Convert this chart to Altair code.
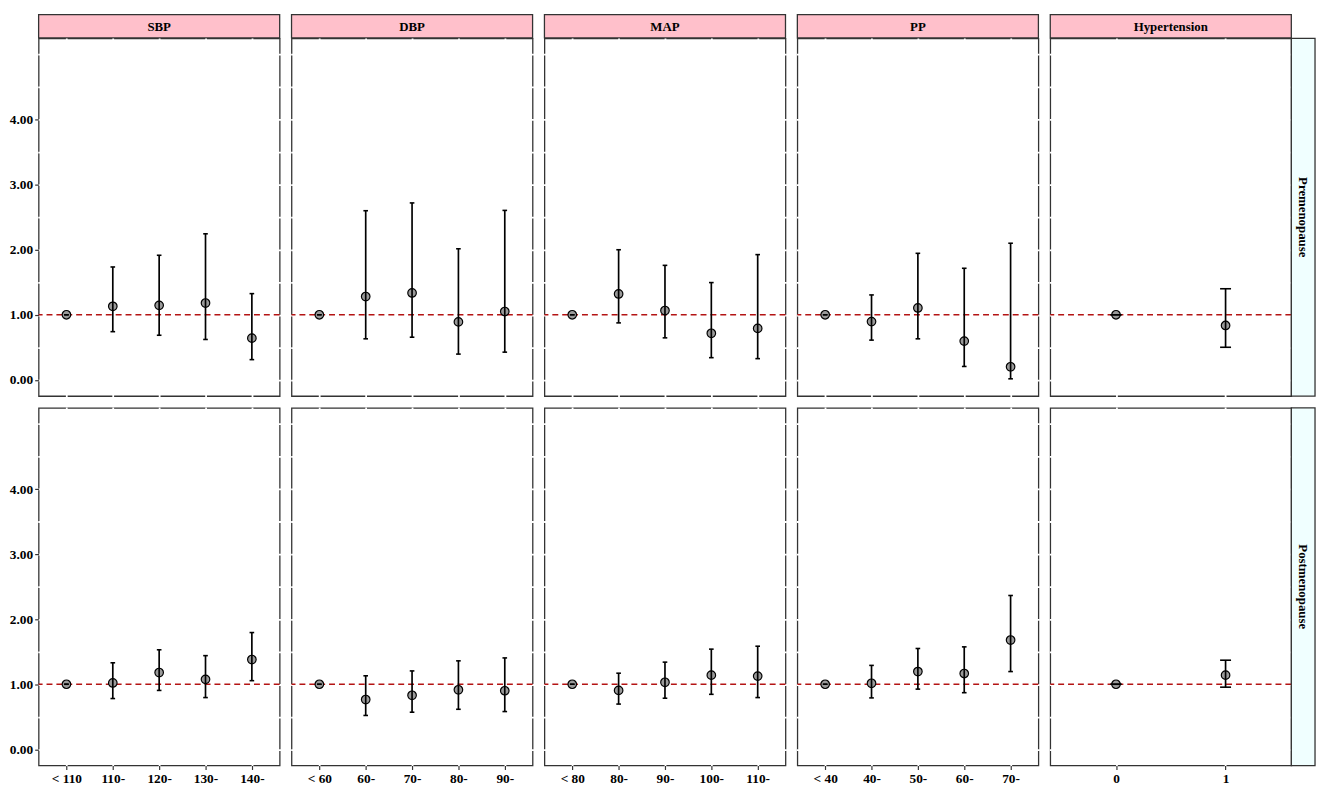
import altair as alt
import pandas as pd

groups = ["SBP", "DBP", "MAP", "PP", "Hypertension"]
periods = ["Premenopause", "Postmenopause"]

sbp_levels = ["< 110", "110-", "120-", "130-", "140-"]
dbp_levels = ["< 60", "60-", "70-", "80-", "90-"]
map_levels = ["< 80", "80-", "90-", "100-", "110-"]
pp_levels = ["< 40", "40-", "50-", "60-", "70-"]
htn_levels = ["0", "1"]

# Premenopause: odds ratio, lower CI, upper CI
sbp_pre_or = [1.00, 1.13, 1.145, 1.18, 0.64]
sbp_pre_lo = [1.00, 0.74, 0.685, 0.62, 0.31]
sbp_pre_hi = [1.00, 1.735, 1.915, 2.245, 1.325]

dbp_pre_or = [1.00, 1.28, 1.335, 0.89, 1.05]
dbp_pre_lo = [1.00, 0.63, 0.655, 0.395, 0.425]
dbp_pre_hi = [1.00, 2.60, 2.72, 2.015, 2.605]

map_pre_or = [1.00, 1.32, 1.065, 0.715, 0.79]
map_pre_lo = [1.00, 0.875, 0.645, 0.34, 0.325]
map_pre_hi = [1.00, 2.00, 1.76, 1.495, 1.925]

pp_pre_or = [1.00, 0.895, 1.105, 0.595, 0.20]
pp_pre_lo = [1.00, 0.61, 0.63, 0.205, 0.015]
pp_pre_hi = [1.00, 1.305, 1.945, 1.715, 2.10]

htn_pre_or = [1.00, 0.835]
htn_pre_lo = [1.00, 0.50]
htn_pre_hi = [1.00, 1.40]

# Postmenopause
sbp_post_or = [1.00, 1.02, 1.18, 1.075, 1.38]
sbp_post_lo = [1.00, 0.78, 0.905, 0.795, 1.055]
sbp_post_hi = [1.00, 1.33, 1.53, 1.44, 1.795]

dbp_post_or = [1.00, 0.765, 0.83, 0.915, 0.90]
dbp_post_lo = [1.00, 0.52, 0.57, 0.615, 0.58]
dbp_post_hi = [1.00, 1.13, 1.205, 1.36, 1.405]

map_post_or = [1.00, 0.905, 1.03, 1.14, 1.125]
map_post_lo = [1.00, 0.695, 0.785, 0.845, 0.795]
map_post_hi = [1.00, 1.17, 1.34, 1.54, 1.585]

pp_post_or = [1.00, 1.015, 1.195, 1.165, 1.68]
pp_post_lo = [1.00, 0.79, 0.925, 0.87, 1.195]
pp_post_hi = [1.00, 1.29, 1.55, 1.575, 2.365]

htn_post_or = [1.00, 1.14]
htn_post_lo = [1.00, 0.955]
htn_post_hi = [1.00, 1.37]

y_grid = [0, 0.5, 1, 1.5, 2, 2.5, 3, 3.5, 4, 4.5, 5]
ref_value = [1.0]

levels_by_group = {"SBP": sbp_levels, "DBP": dbp_levels, "MAP": map_levels,
                   "PP": pp_levels, "Hypertension": htn_levels}
values = {
    ("SBP", "Premenopause"): (sbp_pre_or, sbp_pre_lo, sbp_pre_hi),
    ("DBP", "Premenopause"): (dbp_pre_or, dbp_pre_lo, dbp_pre_hi),
    ("MAP", "Premenopause"): (map_pre_or, map_pre_lo, map_pre_hi),
    ("PP", "Premenopause"): (pp_pre_or, pp_pre_lo, pp_pre_hi),
    ("Hypertension", "Premenopause"): (htn_pre_or, htn_pre_lo, htn_pre_hi),
    ("SBP", "Postmenopause"): (sbp_post_or, sbp_post_lo, sbp_post_hi),
    ("DBP", "Postmenopause"): (dbp_post_or, dbp_post_lo, dbp_post_hi),
    ("MAP", "Postmenopause"): (map_post_or, map_post_lo, map_post_hi),
    ("PP", "Postmenopause"): (pp_post_or, pp_post_lo, pp_post_hi),
    ("Hypertension", "Postmenopause"): (htn_post_or, htn_post_lo, htn_post_hi),
}

W, H = 244, 362
STRIP = 24
FONT = "Liberation Serif"
BORDER = "#333333"
LABEL_TEST = "datum.value % 1 === 0 && datum.value <= 4"

grid_style = dict(grid=True, gridColor="white", gridWidth=1.8, gridCap="square",
                  domain=False, title=None)


def panel(g, p, top, left, right, bottom):
    levels = levels_by_group[g]
    orv, lo, hi = values[(g, p)]
    df = pd.DataFrame({"level": levels, "or": orv, "lo": lo, "hi": hi})
    n = len(levels)
    step = W / (n - 1 + 1.2)
    cap = 0.1 * step

    xscale = alt.Scale(type="point", domain=levels, padding=0.6)
    yscale = alt.Scale(domain=[-0.25, 5.25], nice=False, zero=False)
    if bottom:
        xaxis = alt.Axis(labelAngle=0, ticks=True, tickSize=4, tickColor=BORDER,
                         tickWidth=1.2, labelFont=FONT, labelFontWeight="bold",
                         labelFontSize=13.5, labelColor="black", labelPadding=2,
                         **grid_style)
    else:
        xaxis = alt.Axis(labels=False, ticks=False, **grid_style)
    if left:
        yaxis = alt.Axis(values=y_grid,
                         labelExpr="(" + LABEL_TEST + ") ? format(datum.value, '.2f') : ''",
                         ticks=True, tickSize=4, tickColor=BORDER, tickWidth=1.2,
                         tickOpacity={"condition": {"test": LABEL_TEST, "value": 1}, "value": 0},
                         labelFont=FONT, labelFontWeight="bold",
                         labelFontSize=13.5, labelColor="black", labelPadding=2,
                         **grid_style)
    else:
        yaxis = alt.Axis(values=y_grid, labels=False, ticks=False, **grid_style)

    def X():
        return alt.X("level:N", scale=xscale, axis=xaxis, sort=levels)

    def Y(f):
        return alt.Y(f + ":Q", scale=yscale, axis=yaxis)

    ref = alt.Chart(pd.DataFrame({"y": ref_value})).mark_rule(
        color="#B41414", strokeDash=[6, 4], strokeWidth=1.6
    ).encode(y=Y("y"))

    pts = alt.Chart(df).mark_circle(
        size=75, color="#9A9A9A", stroke="black", strokeWidth=1.2, opacity=1
    ).encode(x=X(), y=Y("or"))

    bars = alt.Chart(df).mark_rule(color="black", strokeWidth=1.7).encode(
        x=X(), y=Y("lo"), y2="hi:Q")

    cap_lo = alt.Chart(df).mark_tick(
        orient="horizontal", color="black", thickness=1.6, size=cap, opacity=1
    ).encode(x=X(), y=Y("lo"))
    cap_hi = alt.Chart(df).mark_tick(
        orient="horizontal", color="black", thickness=1.6, size=cap, opacity=1
    ).encode(x=X(), y=Y("hi"))

    layers = [ref, pts, bars, cap_lo, cap_hi]

    if top:
        hdf = pd.DataFrame({"label": [g]})
        hrect = alt.Chart(hdf).mark_rect(
            fill="#FFC0CB", stroke=BORDER, strokeWidth=1.3
        ).encode(x=alt.value(0), x2=alt.value(W), y=alt.value(-STRIP), y2=alt.value(-0.5))
        htxt = alt.Chart(hdf).mark_text(
            font=FONT, fontWeight="bold", fontSize=13, color="black",
            align="center", baseline="middle"
        ).encode(text="label:N", x=alt.value(W / 2), y=alt.value(-STRIP / 2))
        layers += [hrect, htxt]

    if right:
        rdf = pd.DataFrame({"label": [p]})
        rrect = alt.Chart(rdf).mark_rect(
            fill="#F0FFFF", stroke=BORDER, strokeWidth=1.3
        ).encode(x=alt.value(W), x2=alt.value(W + STRIP), y=alt.value(0), y2=alt.value(H))
        rtxt = alt.Chart(rdf).mark_text(
            font=FONT, fontWeight="bold", fontSize=13, color="black",
            align="center", baseline="middle", angle=90
        ).encode(text="label:N", x=alt.value(W + STRIP / 2), y=alt.value(H / 2))
        layers += [rrect, rtxt]

    return alt.layer(*layers).properties(width=W, height=H)


rows = []
for ri, p in enumerate(periods):
    cells = []
    for ci, g in enumerate(groups):
        cells.append(panel(g, p, top=(ri == 0), left=(ci == 0),
                           right=(ci == len(groups) - 1), bottom=(ri == len(periods) - 1)))
    rows.append(alt.hconcat(*cells, spacing=8))

chart = alt.vconcat(*rows, spacing=8).properties(
    padding=0,
    background="white",
).configure_view(stroke=BORDER, strokeWidth=1.3, fill="white")

chart.save("out.html", embed_options={"renderer": "svg", "actions": False})
